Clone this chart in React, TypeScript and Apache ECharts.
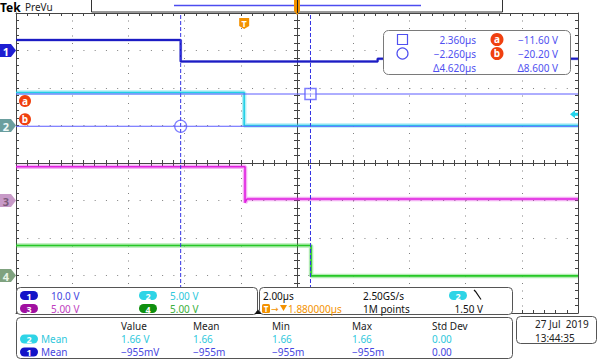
import React, { useEffect, useRef } from "react";
import * as echarts from "echarts";

// ---------- scope settings ----------
const TIME_DIV_US = 2; // 2.00 µs/div
const HPOS_US = 1.88; // trigger sits 1.88 µs left of screen centre
const X_HALF = 10; // ±10 µs around centre (10 divisions)
const Y_HALF = 4; // ±4 divisions

const CH_LABELS = ["1", "2", "3", "4"];
const CH_SCALE_V = [10, 5, 5, 5];
const CH_POS_DIV = [3, 1, -1, -3];
const CH_SCALE_TEXT = ["10.0 V", "5.00 V", "5.00 V", "5.00 V"];
const CH_COLORS = ["#1c1cc4", "#22cfe6", "#e01ee0", "#26c826"];
const CH_BADGE = ["#1414c8", "#2ed4e6", "#a010a0", "#0f8f0f"];
const CH_TEXT = ["#4646e0", "#30c8dc", "#c040c0", "#3cb03c"];
const CH_MARK = ["#1e1ed2", "#6a9e9e", "#c89ac8", "#7fa27f"];
const CH_MARK_TXT = ["#ffffff", "#eef8f8", "#7a5a7a", "#e8f4e8"];

// ---------- waveforms (time µs relative to trigger, volts) ----------
const CH1_T = [-8.12, -2.26, -2.26, 4.75, 4.75, 11.88];
const CH1_V = [2.8, 2.8, -2.9, -2.9, -2.2, -2.2];
const CH2_T = [-8.12, 0.0, 0.0, 11.88];
const CH2_V = [4.4, 4.4, 0.0, 0.0];
const CH3_T = [-8.12, 0.03, 0.03, 0.1, 11.88];
const CH3_V = [4.5, 4.5, -0.3, 0.2, 0.2];
const CH4_T = [-8.12, 2.38, 2.38, 11.88];
const CH4_V = [4.0, 4.0, -0.05, -0.05];

// ---------- cursors ----------
const CURSOR_T = [2.36, -2.26]; // square, circle (µs)
const CURSOR_V = [-11.6, -20.2]; // a, b on ch1 (V)
const TRIG_LEVEL_V = 1.5; // ch2
const CURSOR_T_TEXT = ["2.360µs", "−2.260µs", "Δ4.620µs"];
const CURSOR_V_TEXT = ["−11.60 V", "−20.20 V", "Δ8.600 V"];

// ---------- readouts ----------
const MEAS_HEADERS = ["Value", "Mean", "Min", "Max", "Std Dev"];
const MEAS_CH2 = ["1.66 V", "1.66", "1.66", "1.66", "0.00"];
const MEAS_CH1 = ["−955mV", "−955m", "−955m", "−955m", "0.00"];
const HORIZ_TEXT = ["2.00µs", "1.880000µs"];
const ACQ_TEXT = ["2.50GS/s", "1M points"];
const TRIG_TEXT = "1.50 V";
const DATE_TEXT = ["27 Jul  2019", "13:44:35"];

const FONT = "'Noto Sans', 'DejaVu Sans', sans-serif";
const AXIS_COL = "#444444";
const DOT_COL = "#808080";
const CUR_COL = "#5050f0";
const ORANGE = "#f39200";
const RED = "#f04010";

const toPts = (ch: number, T: number[], V: number[]) =>
  T.map((t, i) => [t - HPOS_US, CH_POS_DIV[ch] + V[i] / CH_SCALE_V[ch]]);

export default function App() {
  const ref = useRef<HTMLDivElement>(null);
  useEffect(() => {
    document.body.style.margin = "0";
    const chart = echarts.init(ref.current!, undefined, { renderer: "svg" });

    const tickStyle = { color: AXIS_COL, width: 1 };
    const xBase: any = {
      type: "value",
      min: -X_HALF,
      max: X_HALF,
      interval: TIME_DIV_US,
      axisLabel: { show: false },
      splitLine: { show: false },
      axisTick: { show: true, inside: true, length: 3, lineStyle: tickStyle },
      minorTick: { show: true, splitNumber: 5, length: 3, lineStyle: tickStyle },
    };
    const yBase: any = {
      type: "value",
      min: -Y_HALF,
      max: Y_HALF,
      interval: 1,
      axisLabel: { show: false },
      splitLine: { show: false },
      axisTick: { show: true, inside: true, length: 3, lineStyle: tickStyle },
      minorTick: { show: true, splitNumber: 5, length: 3, lineStyle: tickStyle },
    };
    const lineOn = { show: true, onZero: true, onZeroAxisIndex: 0, lineStyle: tickStyle };
    const lineOff = { show: true, onZero: false, lineStyle: tickStyle };

    const waves = [
      toPts(0, CH1_T, CH1_V),
      toPts(1, CH2_T, CH2_V),
      toPts(2, CH3_T, CH3_V),
      toPts(3, CH4_T, CH4_V),
    ];
    const series: any[] = [];
    [3, 2, 1, 0].forEach((ch) => {
      series.push({
        type: "line",
        data: waves[ch],
        symbol: "none",
        silent: true,
        z: 2,
        lineStyle: { color: CH_COLORS[ch], width: ch === 0 ? 3 : 4.5, opacity: 0.35 },
      });
      series.push({
        type: "line",
        data: waves[ch],
        symbol: "none",
        silent: true,
        z: 3,
        lineStyle: { color: CH_COLORS[ch], width: ch === 0 ? 2 : 1.6 },
      });
    });
    const curY = CURSOR_V.map((v) => CH_POS_DIV[0] + v / CH_SCALE_V[0]);
    const curX = CURSOR_T.map((t) => t - HPOS_US);
    curX.forEach((x) =>
      series.push({
        type: "line",
        data: [[x, -Y_HALF], [x, Y_HALF]],
        symbol: "none",
        silent: true,
        z: 4,
        lineStyle: { color: "#3434e4", width: 1, type: [4, 2] },
      })
    );
    curY.forEach((y) =>
      series.push({
        type: "line",
        data: [[-X_HALF, y], [X_HALF, y]],
        symbol: "none",
        silent: true,
        z: 4,
        lineStyle: { color: "#5c5cff", width: 1 },
      })
    );
    series.push({
      type: "scatter",
      data: [[curX[0], curY[0]]],
      symbol: "rect",
      symbolSize: 11,
      silent: true,
      z: 5,
      itemStyle: { color: "rgba(255,255,255,0.6)", borderColor: "#5c5cff", borderWidth: 1.5 },
    });
    series.push({
      type: "scatter",
      data: [[curX[1], curY[1]]],
      symbol: "circle",
      symbolSize: 12,
      silent: true,
      z: 5,
      itemStyle: { color: "rgba(255,255,255,0)", borderColor: "#5c5cff", borderWidth: 1.2 },
    });

    chart.setOption({
      animation: false,
      backgroundColor: "#ffffff",
      grid: { left: 16, top: 13, width: 562, height: 300, show: false },
      xAxis: [
        {
          ...xBase,
          position: "bottom",
          axisLine: lineOn,
          splitLine: { show: true, lineStyle: { color: DOT_COL, width: 1, type: [1, 6.5] } },
        },
        { ...xBase, position: "bottom", axisLine: lineOn, axisTick: { ...xBase.axisTick, inside: false } },
        { ...xBase, position: "top", axisLine: lineOff },
        { ...xBase, position: "bottom", axisLine: lineOff },
      ],
      yAxis: [
        {
          ...yBase,
          position: "left",
          axisLine: lineOn,
          splitLine: { show: true, lineStyle: { color: DOT_COL, width: 1, type: [1, 10.24] } },
        },
        { ...yBase, position: "left", axisLine: lineOn, axisTick: { ...yBase.axisTick, inside: false } },
        { ...yBase, position: "left", axisLine: lineOff },
        { ...yBase, position: "right", axisLine: lineOff },
      ],
      series,
    });

    const px = (x: number, y: number) =>
      chart.convertToPixel({ xAxisIndex: 0, yAxisIndex: 0 } as any, [x, y]) as number[];

    const G: any[] = [];
    const Z = 100;
    const text = (
      x: number,
      y: number,
      s: string,
      fill: string,
      size = 10,
      align = "left",
      weight = "normal"
    ) =>
      G.push({
        type: "text",
        x,
        y,
        z: Z + 3,
        silent: true,
        style: {
          text: s,
          fill,
          font: `${weight} ${size}px ${FONT}`,
          textAlign: align,
          textVerticalAlign: "middle",
          align,
          verticalAlign: "middle",
        },
      });
    const rect = (x: number, y: number, w: number, h: number, r: any, fill: string, stroke?: string, lw = 1, z = Z) =>
      G.push({
        type: "rect",
        z,
        silent: true,
        shape: { x, y, width: w, height: h, r },
        style: { fill, stroke: stroke || "none", lineWidth: lw },
      });
    const badge = (x: number, y: number, label: string, color: string) => {
      rect(x, y - 4.5, 18, 9, 4.5, color, undefined, 1, Z + 2);
      text(x + 9, y + 0.5, label, "#ffffff", 9, "center", "bold");
    };

    // top bar
    text(0, 7, "Tek", "#000000", 12, "left", "bold");
    text(25, 7, "PreVu", "#222222", 10);
    rect(91.5, -0.5, 411, 12.5, 0, "#ffffff", "#333333", 1);
    G.push({
      type: "line",
      z: Z + 1,
      silent: true,
      shape: { x1: 174, y1: 5.5, x2: 421, y2: 5.5 },
      style: { stroke: "#4c4cf0", lineWidth: 1.5 },
    });
    const cx = px(0, 0)[0];
    G.push({
      type: "polygon",
      z: Z + 2,
      silent: true,
      shape: { points: [[cx - 3, 0], [cx + 3, 0], [cx + 3, 11], [cx, 15], [cx - 3, 11]] },
      style: { fill: ORANGE },
    });
    G.push({
      type: "line",
      z: Z + 3,
      silent: true,
      shape: { x1: cx + 0.5, y1: 0, x2: cx + 0.5, y2: 13 },
      style: { stroke: "#222", lineWidth: 1 },
    });
    // trigger T marker
    const tx = px(0 - HPOS_US, 0)[0];
    G.push({
      type: "polygon",
      z: Z + 1,
      silent: true,
      shape: { points: [[tx - 5, 18], [tx + 5, 18], [tx + 5, 26], [tx, 29], [tx - 5, 26]] },
      style: { fill: ORANGE },
    });
    text(tx, 23, "T", "#ffffff", 9, "center", "bold");

    // channel ground markers
    CH_POS_DIV.forEach((d, i) => {
      const y = px(-X_HALF, d)[1];
      G.push({
        type: "polygon",
        z: Z + 1,
        silent: true,
        shape: { points: [[0, y - 6.5], [11, y - 6.5], [16, y], [11, y + 6.5], [0, y + 6.5]] },
        style: { fill: CH_MARK[i] },
      });
      text(6, y + 0.5, CH_LABELS[i], CH_MARK_TXT[i], 11, "center", "bold");
    });
    // a / b labels
    const ayp = px(-X_HALF, curY[0])[1];
    const byp = px(-X_HALF, curY[1])[1];
    [["a", ayp + 7], ["b", byp - 7]].forEach(([l, y]: any) => {
      G.push({ type: "circle", z: Z + 1, silent: true, shape: { cx: 25, cy: y, r: 6 }, style: { fill: RED } });
      text(25, y - 0.5, l, "#ffffff", 10, "center", "bold");
    });
    // trigger level arrow (right)
    const tly = px(X_HALF, CH_POS_DIV[1] + TRIG_LEVEL_V / CH_SCALE_V[1])[1];
    G.push({
      type: "polygon",
      z: Z + 1,
      silent: true,
      shape: {
        points: [
          [570, tly], [575, tly - 4], [575, tly - 1.5], [578, tly - 1.5],
          [578, tly + 1.5], [575, tly + 1.5], [575, tly + 4],
        ],
      },
      style: { fill: "#22d4ec" },
    });

    // cursor readout box
    rect(383.5, 30.5, 187, 44, 5, "#ffffff", "#7a7a7a", 1);
    rect(397.5, 34.5, 10, 10, 0, "none", CUR_COL, 1.2, Z + 2);
    G.push({
      type: "circle",
      z: Z + 2,
      silent: true,
      shape: { cx: 402.5, cy: 53.5, r: 5.5 },
      style: { fill: "none", stroke: CUR_COL, lineWidth: 1.2 },
    });
    const rowsY = [39.5, 53.5, 67.5];
    CURSOR_T_TEXT.forEach((s, i) => text(476, rowsY[i], s, CUR_COL, 10, "right"));
    CURSOR_V_TEXT.forEach((s, i) => text(558, rowsY[i], s, CUR_COL, 10, "right"));
    ["a", "b"].forEach((l, i) => {
      G.push({ type: "circle", z: Z + 2, silent: true, shape: { cx: 497, cy: rowsY[i], r: 6.5 }, style: { fill: RED } });
      text(497, rowsY[i] - 0.5, l, "#ffffff", 10, "center", "bold");
    });

    // vertical settings panel
    rect(16.5, 287.5, 241, 27, 4, "#ffffff", "#555555", 1);
    const chPanelPos = [
      [20, 295.5, 51],
      [139, 295.5, 170],
      [20, 308.5, 51],
      [139, 308.5, 170],
    ];
    chPanelPos.forEach(([bx, by, tx2], i) => {
      badge(bx, by, CH_LABELS[i], CH_BADGE[i]);
      text(tx2, by, CH_SCALE_TEXT[i], CH_TEXT[i], 10);
    });
    G.push({
      type: "polygon",
      z: Z + 2,
      silent: true,
      shape: { points: [[254.5, 314], [258, 309.5], [261.5, 314]] },
      style: { fill: "#111" },
    });

    // horizontal / trigger panel
    rect(259.5, 287.5, 253, 27, 4, "#ffffff", "#555555", 1);
    text(263, 295.5, HORIZ_TEXT[0], "#111111", 10);
    rect(262, 304, 8, 9, 1.5, ORANGE, undefined, 1, Z + 2);
    text(266, 308.5, "T", "#ffffff", 8, "center", "bold");
    text(271, 308.5, "→", ORANGE, 9);
    G.push({
      type: "polygon",
      z: Z + 2,
      silent: true,
      shape: { points: [[280, 305], [287, 305], [283.5, 311]] },
      style: { fill: ORANGE },
    });
    text(288, 308.5, HORIZ_TEXT[1], ORANGE, 10);
    text(363, 295.5, ACQ_TEXT[0], "#111111", 10);
    text(363, 308.5, ACQ_TEXT[1], "#111111", 10);
    badge(449, 295.5, "2", CH_BADGE[1]);
    G.push({
      type: "polyline",
      z: Z + 2,
      silent: true,
      shape: { points: [[474, 290], [475.5, 291.5], [481, 299.5]] },
      style: { stroke: "#111", lineWidth: 1.2, fill: "none" },
    });
    text(483, 308.5, TRIG_TEXT, "#111111", 10, "right");

    // measurement panel
    rect(16.5, 317.5, 496, 41, 4, "#ffffff", "#555555", 1);
    const colX = [121, 193, 272, 352, 432];
    MEAS_HEADERS.forEach((s, i) => text(colX[i], 325.5, s, "#222222", 10));
    badge(20, 339, "2", CH_BADGE[1]);
    text(41, 339, "Mean", CH_TEXT[1], 10);
    MEAS_CH2.forEach((s, i) => text(colX[i], 339, s, CH_TEXT[1], 10));
    badge(20, 352, "1", CH_BADGE[0]);
    text(41, 352, "Mean", CH_TEXT[0], 10);
    MEAS_CH1.forEach((s, i) => text(colX[i], 352, s, CH_TEXT[0], 10));

    // date panel
    rect(516.5, 316.5, 80, 27, 4, "#ffffff", "#555555", 1);
    text(535, 323.5, DATE_TEXT[0], "#222222", 10);
    text(535, 338, DATE_TEXT[1], "#222222", 10);

    chart.setOption({ graphic: { elements: G } });

    return () => chart.dispose();
  }, []);
  return <div ref={ref} style={{ width: 601, height: 361 }} />;
}
